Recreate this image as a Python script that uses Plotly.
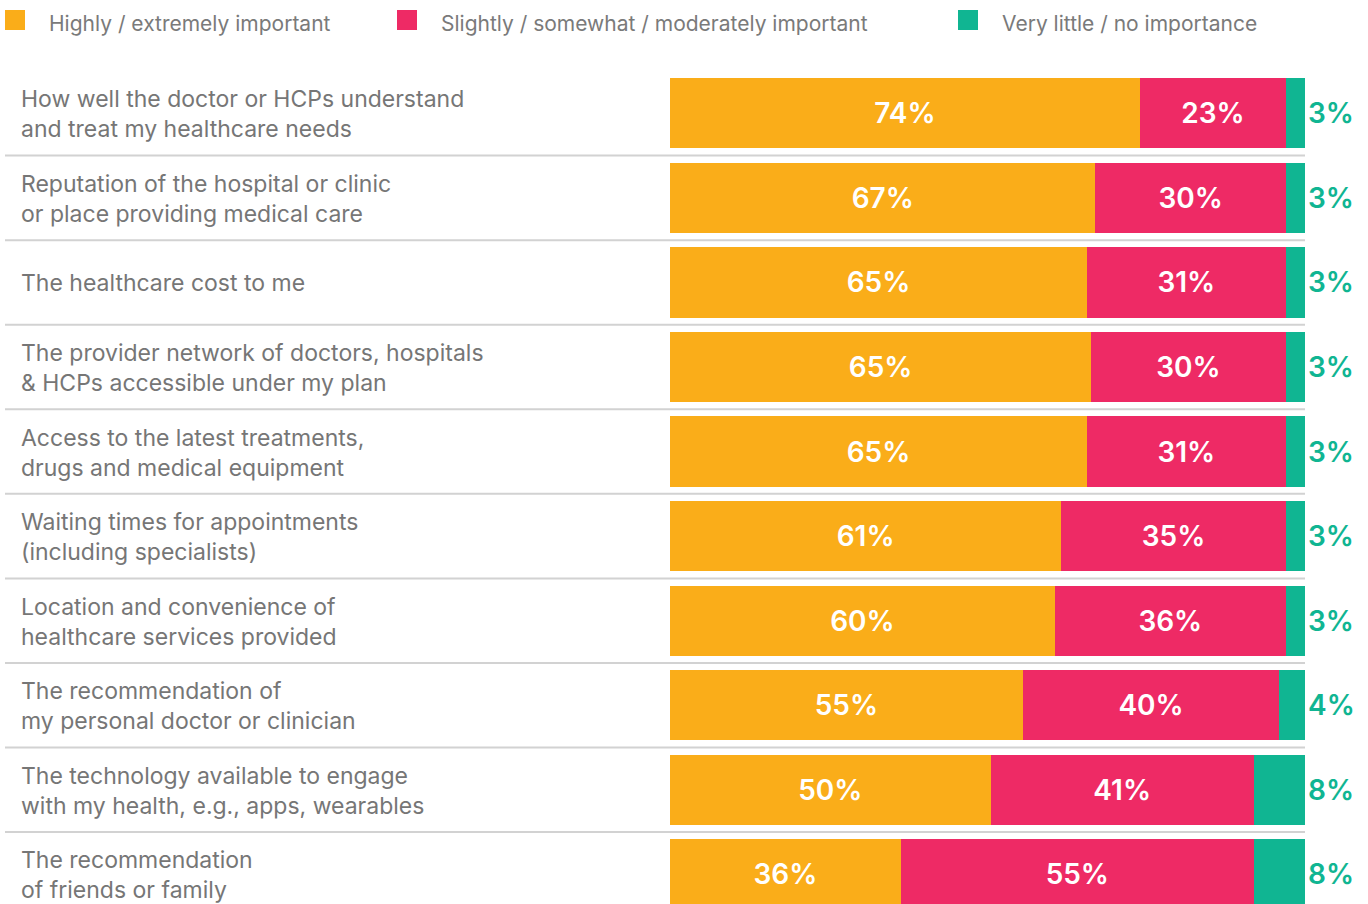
import plotly.graph_objects as go

categories = [
    "How well the doctor or HCPs understand<br>and treat my healthcare needs",
    "Reputation of the hospital or clinic<br>or place providing medical care",
    "The healthcare cost to me",
    "The provider network of doctors, hospitals<br>& HCPs accessible under my plan",
    "Access to the latest treatments,<br>drugs and medical equipment",
    "Waiting times for appointments<br>(including specialists)",
    "Location and convenience of<br>healthcare services provided",
    "The recommendation of<br>my personal doctor or clinician",
    "The technology available to engage<br>with my health, e.g., apps, wearables",
    "The recommendation<br>of friends or family",
]
series_names = [
    "Highly / extremely important",
    "Slightly / somewhat / moderately important",
    "Very little / no importance",
]
highly = [74, 67, 65, 65, 65, 61, 60, 55, 50, 36]
slightly = [23, 30, 31, 30, 31, 35, 36, 40, 41, 55]
little = [3, 3, 3, 3, 3, 3, 3, 4, 8, 8]

colors = ["#FAAD19", "#EE2A65", "#10B592"]
W, H = 1368, 904
T = 71
PH = H - T
FONT = "Inter"

fig = go.Figure()
series = [highly, slightly, little]
for i, (name, vals) in enumerate(zip(series_names, series)):
    fig.add_trace(go.Bar(
        y=categories, x=vals, name=name, orientation="h",
        marker=dict(color=colors[i], line=dict(width=0)),
        text=[f"{v}%" for v in vals] if i < 2 else None,
        textposition="inside" if i < 2 else "none",
        insidetextanchor="middle",
        constraintext="none",
        textfont=dict(family=FONT, size=28, color="white", weight=600),
        width=0.83,
        showlegend=False,
    ))

annotations = []
shapes = []
for c, v in zip(categories, little):
    annotations.append(dict(
        x=19 / W, xref="paper", y=c, yref="y", text=c, showarrow=False,
        xanchor="left", yanchor="middle", align="left", yshift=-1,
        font=dict(family=FONT, size=23, color="#767676"),
    ))
    annotations.append(dict(
        x=100, xref="x", y=c, yref="y", text=f"{v}%", showarrow=False,
        xanchor="left", yanchor="middle", xshift=1,
        font=dict(family=FONT, size=28, color=colors[2], weight=600),
    ))

for k in range(len(categories) - 1):
    shapes.append(dict(
        type="line", xref="paper", x0=5 / W, x1=1305 / W,
        yref="y", y0=k + 0.5, y1=k + 0.5,
        line=dict(color="#D2D2D2", width=2), layer="below",
    ))

legend_x = [5, 397, 958]
for lx, name, col in zip(legend_x, series_names, colors):
    shapes.append(dict(
        type="rect", xref="paper", yref="paper",
        x0=lx / W, x1=(lx + 20) / W,
        y0=(H - 30) / PH, y1=(H - 10) / PH,
        fillcolor=col, line=dict(width=0),
    ))
    annotations.append(dict(
        x=(lx + 42) / W, xref="paper", y=(H - 23) / PH, yref="paper",
        text=name, showarrow=False, xanchor="left", yanchor="middle",
        font=dict(family=FONT, size=21, color="#7A7A7A"),
    ))

fig.update_layout(
    width=W, height=H,
    barmode="stack", barnorm="percent",
    margin=dict(l=0, r=0, t=T, b=0),
    paper_bgcolor="white", plot_bgcolor="white",
    xaxis=dict(domain=[670 / W, 1305 / W], range=[0, 100], visible=False, fixedrange=True),
    yaxis=dict(range=[9.35, -0.5], visible=False, fixedrange=True),
    annotations=annotations, shapes=shapes,
    font=dict(family=FONT),
)

fig.write_html("out.html", config={"displayModeBar": False},
               post_script="document.body.style.margin='0';document.body.style.overflow='hidden';")
